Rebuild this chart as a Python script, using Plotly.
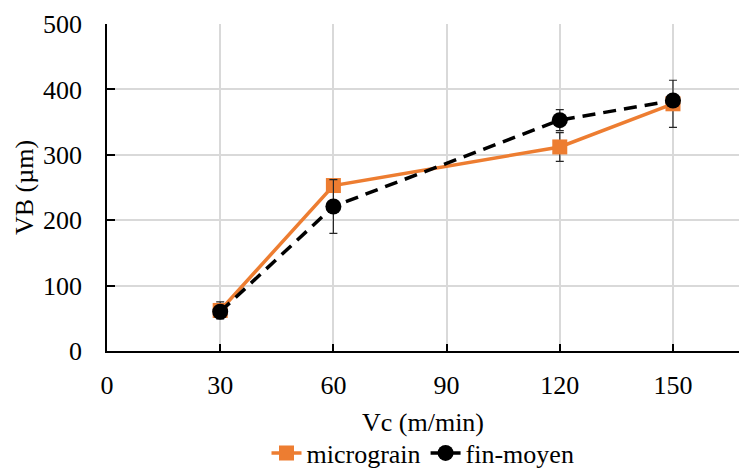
import plotly.graph_objects as go

vc = [30, 60, 120, 150]
micrograin = [62, 253, 312, 378]
micrograin_err = [13, 4, 22, 36]
fin_moyen = [60, 221, 353, 383]
fin_moyen_err = [8, 41, 16, 8]

x_ticks = [0, 30, 60, 90, 120, 150]
y_ticks = [0, 100, 200, 300, 400, 500]

FONT = "Liberation Serif, Times New Roman, serif"
ORANGE = "#ED7D31"
FS = 26

fig = go.Figure()
fig.add_trace(go.Scatter(
    x=vc, y=micrograin, name="micrograin", mode="lines+markers",
    line=dict(color=ORANGE, width=3.5),
    marker=dict(symbol="square", size=15, color=ORANGE),
    error_y=dict(type="data", array=micrograin_err, color="#262626", thickness=1.2, width=4),
))
fig.add_trace(go.Scatter(
    x=vc, y=fin_moyen, name="fin-moyen", mode="lines+markers",
    line=dict(color="black", width=3.5, dash="13px,8px"),
    marker=dict(symbol="circle", size=16, color="black"),
    error_y=dict(type="data", array=fin_moyen_err, color="#262626", thickness=1.2, width=4),
))

fig.update_layout(
    width=739, height=468,
    margin=dict(l=107, r=0, t=24, b=117, autoexpand=False),
    paper_bgcolor="white", plot_bgcolor="white",
    font=dict(family=FONT, size=FS, color="black"),
    showlegend=True,
    legend=dict(orientation="h", x=0.5, xanchor="center", y=-0.312, yanchor="middle",
                font=dict(family=FONT, size=FS), tracegroupgap=0),
    xaxis=dict(
        range=[0, 167.5], tickvals=x_ticks, ticktext=[str(v) for v in x_ticks],
        showgrid=True, gridcolor="#d9d9d9", gridwidth=1.5,
        showline=True, linecolor="black", linewidth=1.5,
        ticks="inside", ticklen=7, tickcolor="black", tickwidth=1.5,
        ticklabelstandoff=10,
        zeroline=False, automargin=False,
        title=dict(text="Vc (m/min)", font=dict(family=FONT, size=FS), standoff=14),
    ),
    yaxis=dict(
        range=[0, 500], tickvals=y_ticks, ticktext=[str(v) for v in y_ticks],
        showgrid=True, gridcolor="#d9d9d9", gridwidth=1.5,
        showline=True, linecolor="black", linewidth=1.5,
        ticks="inside", ticklen=8, tickcolor="black", tickwidth=1.5,
        ticklabelstandoff=18,
        zeroline=False, automargin=False,
        title=dict(text="VB (µm)", font=dict(family=FONT, size=FS), standoff=2),
    ),
)

fig.write_html("out.html", config={"displayModeBar": False},
               post_script="document.body.style.margin='0';")
